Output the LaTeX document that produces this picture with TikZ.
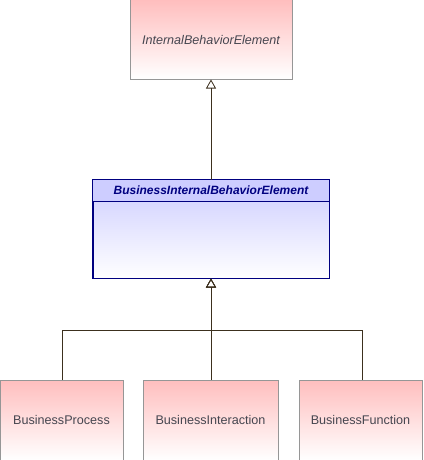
\documentclass[tikz,border=0pt]{standalone}
\usepackage{fontspec}
\setmainfont{Liberation Sans}
\usetikzlibrary{arrows.meta}
\definecolor{pinktop}{RGB}{255,190,190}
\definecolor{bluetop}{RGB}{205,205,255}
\definecolor{boxgray}{RGB}{150,150,150}
\definecolor{navy}{RGB}{0,0,128}
\definecolor{linebrown}{RGB}{60,48,30}
\definecolor{textgray}{RGB}{70,70,80}
\tikzset{
  pinkbox/.style={draw=boxgray,line width=1pt,top color=pinktop,bottom color=white,
    minimum height=80pt,inner sep=0pt,text=textgray,font=\fontsize{12.6}{14}\selectfont},
  gen/.style={draw=linebrown,line width=1pt,-{Triangle[open,width=10pt,length=9pt,line width=0.8pt]}}
}
\begin{document}
\begin{tikzpicture}[x=1pt,y=-1pt]
	\useasboundingbox (0,0) rectangle (423,460);
	\node[pinkbox,minimum width=162pt,minimum height=79pt,font=\fontsize{12.6}{14}\selectfont\itshape] (ibe) at (211,39.5) {InternalBehaviorElement};
	\node[draw=navy,line width=1pt,top color=bluetop,bottom color=white,minimum width=236pt,minimum height=98pt] (bibe) at (211,229) {};
	\fill[bluetop] ([shift={(0.5pt,-0.5pt)}]bibe.north west) rectangle ([shift={(-0.5pt,-22pt)}]bibe.north east);
	\draw[navy,line width=1pt] ([yshift=-22pt]bibe.north west) -- ([yshift=-22pt]bibe.north east);
	\draw[navy,line width=1pt] (bibe.north west) rectangle (bibe.south east);
	\node[text=navy,font=\fontsize{12}{14}\selectfont\bfseries\itshape] (bibetitle) at ([yshift=-11pt]bibe.north) {BusinessInternalBehaviorElement};
	\node[pinkbox,minimum width=123pt] (proc) at (61.5,420) {BusinessProcess};
	\node[pinkbox,minimum width=135pt] (inter) at (210.5,420) {BusinessInteraction};
	\node[pinkbox,minimum width=123pt] (func) at (360.5,420) {BusinessFunction};
	\coordinate (fork) at (211,330);
	\draw[gen] (bibe.north) -- (ibe.south);
	\draw[gen] (proc.north -| 62,0) |- (fork) -- (bibe.south);
	\draw[gen] (inter.north -| 211,0) -- (bibe.south);
	\draw[gen] (func.north -| 362,0) |- (fork) -- (bibe.south);
\end{tikzpicture}
\end{document}
